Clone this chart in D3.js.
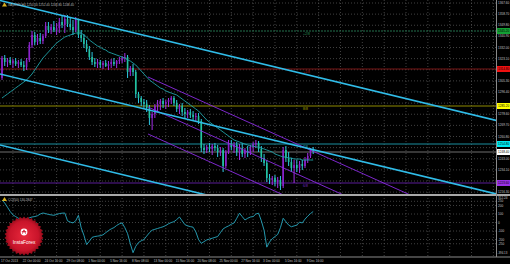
<!DOCTYPE html>
<html>
<head>
<meta charset="utf-8">
<script src="https://cdn.jsdelivr.net/npm/d3@7"></script>
<style>
  html, body { margin: 0; padding: 0; background: #000; }
  svg { display: block; font-family: "Liberation Sans", Arial, sans-serif; }
</style>
</head>
<body>
<svg width="510" height="264"></svg>
<script>
// XAUUSD H4 (two H4 bars per candle)
const opens = [1307.6, 1323.6, 1320.4, 1322.0, 1319.6, 1321.2, 1318.8, 1320.4, 1318.0, 1316.4,
    1322.0, 1334.0, 1342.0, 1336.4, 1339.6, 1337.2, 1341.2, 1349.2, 1346.0, 1348.4,
    1346.0, 1347.6, 1352.4, 1350.0, 1354.8, 1350.8, 1348.4, 1346.0, 1354.0, 1342.0,
    1339.6, 1334.8, 1330.8, 1324.4, 1320.4, 1318.8, 1320.4, 1318.0, 1319.6, 1317.2,
    1318.8, 1320.4, 1318.8, 1321.2, 1322.0, 1323.6, 1324.4, 1312.4, 1315.6, 1312.4,
    1294.8, 1291.6, 1288.4, 1286.8, 1283.6, 1275.6, 1278.8, 1285.2, 1286.8, 1289.2,
    1286.8, 1288.4, 1290.0, 1291.6, 1287.6, 1282.8, 1285.2, 1280.4, 1278.8, 1280.4,
    1278.0, 1276.4, 1277.2, 1273.2, 1251.6, 1250.0, 1252.4, 1250.8, 1253.2, 1251.6,
    1248.4, 1250.0, 1237.2, 1248.4, 1255.6, 1252.4, 1254.0, 1248.4, 1251.6, 1246.8,
    1249.2, 1247.6, 1252.4, 1254.8, 1255.6, 1250.8, 1243.6, 1239.6, 1227.6, 1226.0,
    1227.6, 1224.4, 1226.0, 1221.2, 1250.0, 1243.6, 1240.4, 1235.6, 1238.0, 1235.6,
    1238.8, 1237.2, 1242.0, 1245.2, 1250.0];
const highs = [1325.2, 1326.0, 1323.6, 1324.4, 1322.8, 1323.6, 1322.0, 1322.8, 1321.2, 1323.6,
    1336.4, 1345.2, 1344.4, 1342.8, 1343.6, 1342.8, 1352.4, 1352.4, 1350.8, 1353.2,
    1351.6, 1355.6, 1357.2, 1358.0, 1358.0, 1355.6, 1354.0, 1356.4, 1354.8, 1346.0,
    1342.8, 1338.0, 1333.2, 1328.4, 1323.6, 1322.8, 1322.0, 1321.2, 1322.0, 1321.2,
    1322.8, 1323.6, 1322.0, 1324.4, 1325.2, 1327.6, 1326.0, 1317.2, 1318.8, 1314.0,
    1296.4, 1293.2, 1290.8, 1290.0, 1286.0, 1280.4, 1286.8, 1290.0, 1290.8, 1291.6,
    1290.0, 1291.6, 1293.2, 1293.2, 1290.0, 1286.8, 1287.6, 1283.6, 1282.0, 1282.8,
    1281.2, 1279.6, 1279.6, 1274.8, 1254.8, 1254.0, 1255.6, 1254.8, 1255.6, 1254.0,
    1252.4, 1251.6, 1250.0, 1258.0, 1258.0, 1256.4, 1256.4, 1254.8, 1255.6, 1251.6,
    1253.2, 1254.0, 1256.4, 1258.0, 1257.2, 1253.2, 1246.8, 1242.0, 1230.8, 1229.2,
    1230.0, 1228.4, 1229.2, 1252.4, 1253.2, 1248.4, 1243.6, 1242.0, 1242.0, 1241.2,
    1242.0, 1244.4, 1247.6, 1251.6, 1252.4];
const lows = [1306.0, 1317.2, 1316.4, 1318.0, 1315.6, 1317.2, 1315.6, 1316.4, 1313.2, 1314.0,
    1320.4, 1331.6, 1334.0, 1334.0, 1334.8, 1334.8, 1339.6, 1343.6, 1342.8, 1344.4,
    1342.0, 1343.6, 1347.6, 1343.6, 1348.4, 1346.0, 1342.0, 1344.4, 1339.6, 1336.4,
    1331.6, 1328.4, 1322.0, 1318.0, 1316.4, 1315.6, 1315.6, 1314.8, 1316.4, 1314.0,
    1315.6, 1317.2, 1315.6, 1318.8, 1319.6, 1320.4, 1307.6, 1309.2, 1309.2, 1291.6,
    1287.6, 1285.2, 1283.6, 1280.4, 1270.0, 1266.0, 1275.6, 1280.4, 1282.0, 1283.6,
    1282.8, 1284.4, 1286.8, 1285.2, 1280.4, 1278.8, 1277.2, 1275.6, 1275.6, 1275.6,
    1274.0, 1273.2, 1270.8, 1248.4, 1246.8, 1247.6, 1248.4, 1246.0, 1249.2, 1244.4,
    1245.2, 1232.4, 1235.6, 1246.8, 1250.0, 1247.6, 1245.2, 1242.0, 1244.4, 1243.6,
    1244.4, 1246.0, 1248.4, 1251.6, 1248.4, 1240.4, 1237.2, 1224.4, 1222.8, 1222.0,
    1221.2, 1219.6, 1218.0, 1219.6, 1240.4, 1237.2, 1232.4, 1223.6, 1232.4, 1231.6,
    1234.0, 1235.6, 1239.6, 1243.6, 1246.8];
const closes = [1323.6, 1320.4, 1322.0, 1319.6, 1321.2, 1318.8, 1320.4, 1318.0, 1316.4, 1322.0,
    1334.0, 1342.0, 1336.4, 1339.6, 1337.2, 1341.2, 1349.2, 1346.0, 1348.4, 1346.0,
    1347.6, 1352.4, 1350.0, 1354.8, 1350.8, 1348.4, 1346.0, 1354.0, 1342.0, 1339.6,
    1334.8, 1330.8, 1324.4, 1320.4, 1318.8, 1320.4, 1318.0, 1319.6, 1317.2, 1318.8,
    1320.4, 1318.8, 1321.2, 1322.0, 1323.6, 1324.4, 1312.4, 1315.6, 1312.4, 1294.8,
    1291.6, 1288.4, 1286.8, 1283.6, 1275.6, 1278.8, 1285.2, 1286.8, 1289.2, 1286.8,
    1288.4, 1290.0, 1291.6, 1287.6, 1282.8, 1285.2, 1280.4, 1278.8, 1280.4, 1278.0,
    1276.4, 1277.2, 1273.2, 1251.6, 1250.0, 1252.4, 1250.8, 1253.2, 1251.6, 1248.4,
    1250.0, 1237.2, 1248.4, 1255.6, 1252.4, 1254.0, 1248.4, 1251.6, 1246.8, 1249.2,
    1247.6, 1252.4, 1254.8, 1255.6, 1250.8, 1243.6, 1239.6, 1227.6, 1226.0, 1227.6,
    1224.4, 1226.0, 1221.2, 1250.0, 1243.6, 1240.4, 1235.6, 1238.0, 1235.6, 1238.8,
    1237.2, 1242.0, 1245.2, 1250.0, 1248.4];
const maValues = [1291.6, 1293.2, 1294.8, 1296.4, 1298.0, 1299.6, 1301.2, 1302.8, 1304.4, 1306.0,
    1308.4, 1310.8, 1314.0, 1317.2, 1320.4, 1323.6, 1326.0, 1328.4, 1330.8, 1333.2,
    1335.6, 1337.2, 1338.8, 1340.4, 1341.2, 1342.0, 1342.8, 1343.6, 1343.6, 1343.6,
    1342.0, 1340.4, 1338.0, 1336.4, 1334.8, 1333.2, 1332.4, 1330.8, 1330.0, 1328.4,
    1327.6, 1326.8, 1326.0, 1325.2, 1324.4, 1323.6, 1322.0, 1321.2, 1319.6, 1318.0,
    1315.6, 1313.2, 1310.8, 1308.4, 1306.0, 1304.4, 1302.8, 1301.2, 1299.6, 1298.8,
    1297.2, 1296.4, 1295.6, 1294.8, 1294.0, 1292.4, 1290.8, 1289.2, 1287.6, 1286.0,
    1284.4, 1282.8, 1281.2, 1278.8, 1276.4, 1274.0, 1272.4, 1270.8, 1269.2, 1267.6,
    1266.0, 1264.4, 1262.8, 1261.2, 1259.6, 1258.0, 1257.2, 1256.4, 1255.6, 1254.8,
    1254.0, 1253.2, 1253.2, 1252.4, 1252.4, 1251.6, 1250.8, 1250.0, 1249.2, 1248.4,
    1246.8, 1246.0, 1245.2, 1244.4, 1244.4, 1243.6, 1243.6, 1242.8, 1242.8, 1242.8,
    1242.0, 1242.0, 1242.0, 1242.0, 1242.0];
const cciValues = [265, 230, 180, 130, 90, 70, 50, 35, 25, 40,
    55, 65, 70, 80, 100, 112, 105, 95, 90, 85,
    95, 105, 110, 112, 20, 5, -5, 20, 85, -60,
    -150, -260, -220, -175, -165, -160, -155, -145, -120, -95,
    -75, -60, -35, -15, -5, -60, -130, -250, -355, -280,
    -235, -215, -200, -160, -120, -90, -80, -70, -60, -50,
    -35, -15, 0, 10, 35, 65, 20, -25, -40, -48,
    -55, -110, -200, -245, -225, -205, -195, -185, -175, -165,
    -120, -75, -55, -40, -20, -5, 50, 110, 70, 30,
    50, 65, 70, 100, 110, 20, -90, -290, -230, -190,
    -165, -140, -60, 50, 10, -30, -50, -40, -30, 5,
    -5, 40, 75, 105, 130];

const dateLabels = ["17 Oct 2013", "22 Oct 00:00", "24 Oct 16:00", "29 Oct 08:00", "1 Nov 00:00",
    "5 Nov 16:00", "8 Nov 08:00", "13 Nov 00:00", "15 Nov 16:00", "20 Nov 08:00",
    "25 Nov 00:00", "27 Nov 16:00", "3 Dec 00:00", "5 Dec 16:00", "9 Dec 16:00"];
const priceTicks = [1367.60, 1358.70, 1349.80, 1340.90, 1332.00, 1323.10, 1314.20, 1305.30, 1296.40,
    1287.50, 1278.60, 1269.70, 1260.80, 1251.90, 1243.00, 1234.10, 1225.20, 1216.30];
const cciLevels = [250, 200, 100, 0, -100, -200, -250];
const cciRange = [312.24, -394.13];

// trend lines: [bar1, price1, bar2, price2]
const cyanLines = [[0, 1369.2, 100, 1316.4], [0, 1310.4, 100, 1257.6], [0, 1253.6, 100, 1200.8]];
const purpleLines = [[53.5, 1308.4, 100, 1262.7], [53.5, 1284.4, 100, 1238.7], [53.5, 1262.8, 100, 1217.1]];

// murrey levels
const levelPrices = [1345.2, 1314.8, 1285.2, 1254.8, 1223.6];
const levelNames = ["+2/8", "+1/8", "8/8", "7/8", "6/8"];

const levelLineColors = ["#23704c", "#7c1616", "#8e8a00", "#1a8e9e", "#5a1c98"];
const levelTextColors = ["#2a9058", "#b01818", "#b0a800", "#22b0c0", "#7a2cc8"];
const levelBoxColors = ["#13a034", "#f01010", "#ffff00", "#00e8f0", "#9a30e8"];

var svg = d3.select("svg"),
    width = +svg.attr("width"),
    height = +svg.attr("height");

const plotRight = 496;
const mainBottom = 194, subTop = 196, subBottom = 256;

var x = d3.scaleLinear().domain([0, 114]).range([2, 313.2]);
var y = d3.scaleLinear().domain([1367.6, 1215.6]).range([3, 193]);
var yc = d3.scaleLinear().domain(cciRange).range([subTop, subBottom]);

svg.append("rect").attr("width", width).attr("height", height).attr("fill", "#000");

var defs = svg.append("defs");
defs.append("clipPath").attr("id", "clipMain")
    .append("rect").attr("x", 0).attr("y", 0).attr("width", plotRight).attr("height", mainBottom);
defs.append("clipPath").attr("id", "clipSub")
    .append("rect").attr("x", 0).attr("y", subTop).attr("width", plotRight).attr("height", subBottom - subTop);
var grad = defs.append("radialGradient").attr("id", "logoGrad");
grad.append("stop").attr("offset", "0%").attr("stop-color", "#e8283c");
grad.append("stop").attr("offset", "75%").attr("stop-color", "#c8142a");
grad.append("stop").attr("offset", "100%").attr("stop-color", "#8c0a18");

// grid
var grid = svg.append("g")
    .attr("stroke", "#5c5c5c")
    .attr("stroke-width", 0.7)
    .attr("stroke-dasharray", "1 2");

grid.selectAll(".vg")
    .data(d3.range(4, 184, 8))
    .enter().append("line")
    .attr("x1", d => x(d)).attr("x2", d => x(d))
    .attr("y1", 0).attr("y2", subBottom);

grid.selectAll(".hg")
    .data(priceTicks)
    .enter().append("line")
    .attr("x1", 0).attr("x2", plotRight)
    .attr("y1", d => y(d)).attr("y2", d => y(d));

grid.selectAll(".cg")
    .data(cciLevels)
    .enter().append("line")
    .attr("x1", 0).attr("x2", plotRight)
    .attr("y1", d => yc(d)).attr("y2", d => yc(d));

var main = svg.append("g").attr("clip-path", "url(#clipMain)");

// murrey levels and bid line
main.selectAll(".lvl")
    .data(levelPrices)
    .enter().append("line")
    .attr("x1", 0).attr("x2", plotRight)
    .attr("y1", d => y(d)).attr("y2", d => y(d))
    .attr("stroke", (d, i) => levelLineColors[i])
    .attr("stroke-width", 1)
    .attr("stroke-dasharray", (d, i) => i === 0 ? "2 1" : null);

const bid = closes[closes.length - 1];
main.append("line")
    .attr("x1", 0).attr("x2", plotRight)
    .attr("y1", y(bid)).attr("y2", y(bid))
    .attr("stroke", "#8c8c8c")
    .attr("stroke-width", 0.8);

main.selectAll(".lvlText")
    .data(levelPrices)
    .enter().append("text")
    .attr("x", x(110.3))
    .attr("y", d => y(d) + 3.6)
    .attr("font-size", 3.4)
    .attr("fill", (d, i) => levelTextColors[i])
    .text((d, i) => levelNames[i]);

// candles
var candle = main.selectAll(".candle")
    .data(closes)
    .enter().append("g");

candle.append("line")
    .attr("x1", (d, i) => x(i)).attr("x2", (d, i) => x(i))
    .attr("y1", (d, i) => y(highs[i]))
    .attr("y2", (d, i) => y(lows[i]))
    .attr("stroke", (d, i) => d >= opens[i] ? "#a22ee6" : "#2ec6e2")
    .attr("stroke-width", 1);

candle.append("rect")
    .attr("x", (d, i) => x(i) - 0.8)
    .attr("width", 1.6)
    .attr("y", (d, i) => y(Math.max(d, opens[i])))
    .attr("height", (d, i) => Math.max(0.6, Math.abs(y(d) - y(opens[i]))))
    .attr("fill", (d, i) => d >= opens[i] ? "#8a22cc" : "#22c4a0");

// moving average
main.append("path")
    .datum(maValues)
    .attr("fill", "none")
    .attr("stroke", "#1fa3a8")
    .attr("stroke-width", 0.9)
    .attr("d", d3.line().x((d, i) => x(i)).y(d => y(d)));

// trend channels
function trendPath(a, fromStart) {
    var m = (a[3] - a[1]) / (a[2] - a[0]);
    var j0 = fromStart ? a[0] : x.invert(-2);
    var j1 = x.invert(plotRight + 2);
    return [[j0, a[1] + m * (j0 - a[0])], [j1, a[1] + m * (j1 - a[0])]];
}

var tl = d3.line().x(d => x(d[0])).y(d => y(d[1]));

main.selectAll(".purple")
    .data(purpleLines)
    .enter().append("path")
    .attr("d", d => tl(trendPath(d, true)))
    .attr("stroke", "#8a2be2")
    .attr("stroke-width", 0.9)
    .attr("fill", "none");

main.selectAll(".cyan")
    .data(cyanLines)
    .enter().append("path")
    .attr("d", d => tl(trendPath(d, false)))
    .attr("stroke", "#30bce8")
    .attr("stroke-width", 1.6)
    .attr("fill", "none");

// CCI window
var sub = svg.append("g").attr("clip-path", "url(#clipSub)");
sub.append("path")
    .datum(cciValues)
    .attr("fill", "none")
    .attr("stroke", "#28a8c0")
    .attr("stroke-width", 0.9)
    .attr("d", d3.line().x((d, i) => x(i)).y(d => yc(d)));

// frames
svg.append("rect").attr("x", 0).attr("y", mainBottom).attr("width", width).attr("height", subTop - mainBottom)
    .attr("fill", "#a8a8a8");
svg.append("line").attr("x1", 0).attr("x2", width).attr("y1", subBottom + 1).attr("y2", subBottom + 1)
    .attr("stroke", "#8a8a8a").attr("stroke-width", 1);
svg.append("line").attr("x1", plotRight + 0.5).attr("x2", plotRight + 0.5).attr("y1", 0).attr("y2", subBottom + 1)
    .attr("stroke", "#8a8a8a").attr("stroke-width", 1);

// price axis
var axis = svg.append("g").attr("font-size", 3.1).attr("fill", "#c4c4c4");

var boxes = levelPrices.map((p, i) => ({ p: p, bg: levelBoxColors[i] }));
boxes.push({ p: bid, bg: "#ffffff" });

// plain labels that would sit under a coloured box are left out
axis.selectAll(".pt")
    .data(priceTicks.filter(t => boxes.every(b => Math.abs(y(t) - y(b.p)) > 5)))
    .enter().append("text")
    .attr("x", plotRight + 2)
    .attr("y", d => y(d) + 1.1)
    .text(d => d.toFixed(2));

var box = axis.selectAll(".box")
    .data(boxes)
    .enter().append("g");
box.append("rect")
    .attr("x", plotRight + 1)
    .attr("y", d => y(d.p) - 3)
    .attr("width", width - plotRight - 1)
    .attr("height", 6)
    .attr("fill", d => d.bg);
box.append("text")
    .attr("x", plotRight + 2)
    .attr("y", d => y(d.p) + 1.1)
    .attr("fill", "#000")
    .text(d => d.p.toFixed(2));

axis.selectAll(".ct")
    .data(cciLevels)
    .enter().append("text")
    .attr("x", plotRight + 2)
    .attr("y", d => yc(d) + 1.1)
    .text(d => d);

axis.append("text").attr("x", plotRight + 2).attr("y", yc(cciRange[0]) + 3.4).text(cciRange[0].toFixed(2));
axis.append("text").attr("x", plotRight + 1.5).attr("y", yc(cciRange[1]) - 1.6)
    .attr("font-size", 2.9).text(cciRange[1].toFixed(2));

// date axis
axis.selectAll(".dt")
    .data(dateLabels)
    .enter().append("text")
    .attr("x", (d, i) => x(i * 8) - 1)
    .attr("y", height - 2)
    .text(d => d);

// window captions
svg.append("text")
    .attr("x", 8).attr("y", 6)
    .attr("font-size", 3.1).attr("fill", "#b8b8b8")
    .text("XAUUSD,H4  " + [opens, highs, lows, closes].map(a => a[a.length - 1].toFixed(2)).join(" "));
svg.append("path")
    .attr("d", "M2,6.5L4.5,2.5L7,6.5Z")
    .attr("fill", "#d8b020");

svg.append("text")
    .attr("x", 8).attr("y", subTop + 4.5)
    .attr("font-size", 3.1).attr("fill", "#b8b8b8")
    .text("CCI(50) " + (cciValues[cciValues.length - 1] + 0.2847).toFixed(4));
svg.append("path")
    .attr("d", "M2," + (subTop + 5) + "L4.5," + (subTop + 1) + "L7," + (subTop + 5) + "Z")
    .attr("fill", "#d8b020");

// logo
var logo = svg.append("g").attr("transform", "translate(24,236)");
var star = d3.range(60).map(i => [i * Math.PI / 30, i % 2 ? 17.6 : 19.6]);
logo.append("path")
    .attr("d", d3.lineRadial().curve(d3.curveLinearClosed)(star))
    .attr("fill", "url(#logoGrad)");
logo.append("circle").attr("cx", 0).attr("cy", -4).attr("r", 3.4).attr("fill", "#fff");
logo.append("path")
    .attr("d", "M-1.6,-2.4L0,-6.2L1.6,-2.4M-2.2,-4.4L2.2,-4.4")
    .attr("stroke", "#d01a30").attr("stroke-width", 0.9).attr("fill", "none");
logo.append("text")
    .attr("x", 0).attr("y", 7.5)
    .attr("text-anchor", "middle")
    .attr("font-size", 4.8)
    .attr("fill", "#fff")
    .text("InstaForex");
</script>
</body>
</html>
